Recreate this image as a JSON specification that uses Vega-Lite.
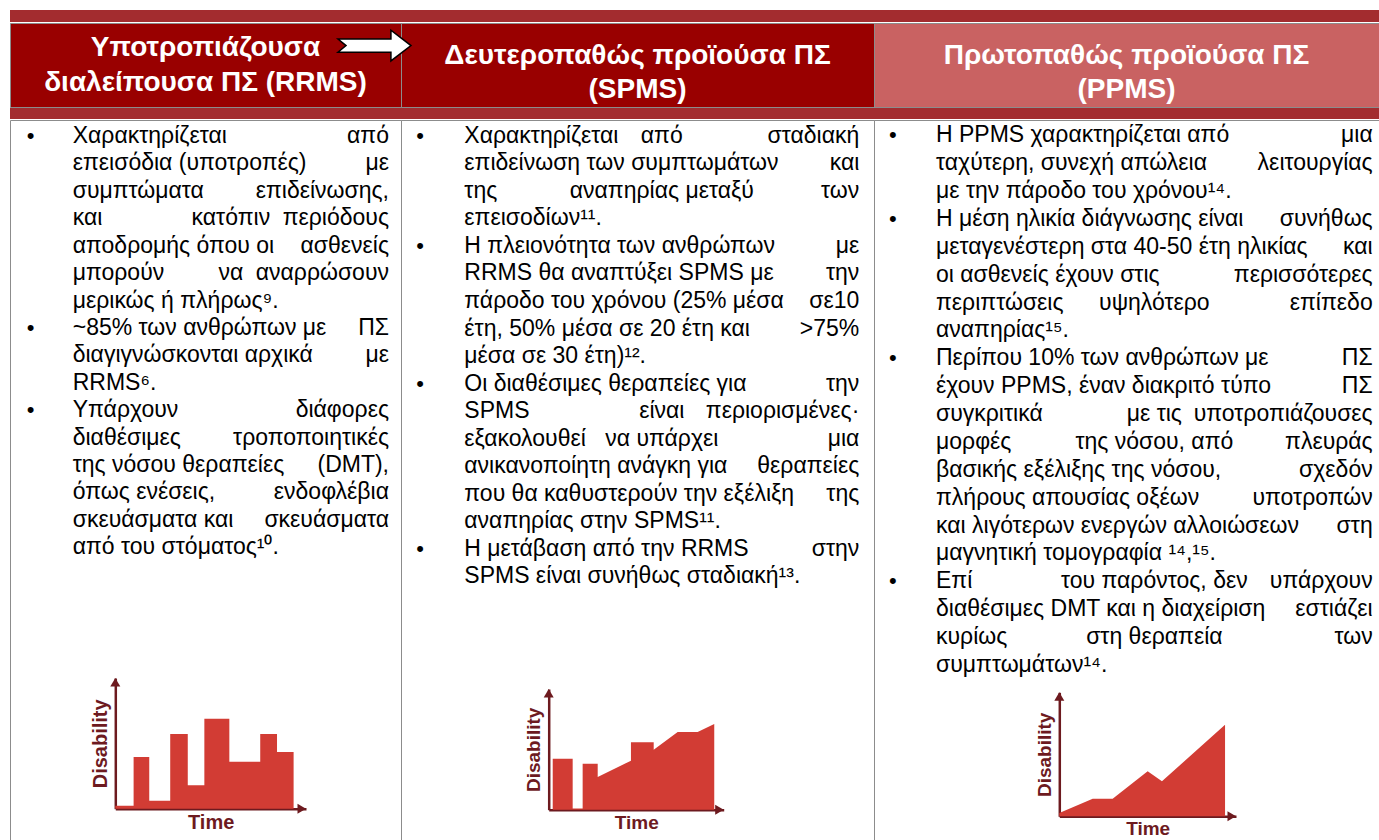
{
  "$schema": "https://vega.github.io/schema/vega-lite/v6.json",
  "padding": {"left": 9, "top": 10, "right": 0, "bottom": 0},
  "background": "white",
  "spacing": 0,
  "config": {"view": {"stroke": null}, "font": "Liberation Sans"},
  "vconcat": [
    {
      "width": 1370, "height": 12,
      "view": {"fill": "#A32C2F", "stroke": null},
      "data": {"values": [{"band": "top"}]},
      "mark": {"type": "rect", "color": "#A32C2F"},
      "encoding": {}
    },
    {
      "hconcat": [
        {
          "width": 391, "height": 84,
          "view": {"fill": "#990000", "stroke": "#8c8c8c"},
          "data": {"values": [{"line": 1, "text": "Υποτροπιάζουσα"}, {"line": 2, "text": "διαλείπουσα ΠΣ (RRMS)"}]},
          "mark": {"type": "text", "fontSize": 28, "fontWeight": "bold", "color": "white", "baseline": "alphabetic", "align": "center"},
          "encoding": {
            "y": {"field": "line", "type": "quantitative", "scale": {"domain": [1, 2], "range": [33, 68], "nice": false, "zero": false}, "axis": null},
            "text": {"field": "text"}
          }
        },
        {
          "width": 473, "height": 84,
          "view": {"fill": "#990000", "stroke": "#8c8c8c"},
          "layer": [
            {
              "data": {"values": [{"line": 1, "text": "Δευτεροπαθώς προϊούσα ΠΣ"}, {"line": 2, "text": "(SPMS)"}]},
              "mark": {"type": "text", "fontSize": 28, "fontWeight": "bold", "color": "white", "baseline": "alphabetic", "align": "center"},
              "encoding": {
                "y": {"field": "line", "type": "quantitative", "scale": {"domain": [1, 2], "range": [41.3, 74.7], "nice": false, "zero": false}, "axis": null},
                "text": {"field": "text"}
              }
            },
            {
              "data": {"values": [{"from": "RRMS", "to": "SPMS"}]},
              "mark": {"type": "point", "shape": "M -1 -0.18 L 0.45 -0.18 L 0.45 -0.42 L 1 0 L 0.45 0.42 L 0.45 0.18 L -1 0.18 L -0.78 0 Z", "size": 5329, "filled": true, "fill": "white", "stroke": "black", "strokeWidth": 1.5, "opacity": 1},
              "encoding": {"x": {"value": -26.5}, "y": {"value": 22.6}}
            }
          ]
        },
        {
          "width": 505, "height": 84,
          "view": {"fill": "#C96262", "stroke": "#8c8c8c"},
          "data": {"values": [{"line": 1, "text": "Πρωτοπαθώς προϊούσα ΠΣ"}, {"line": 2, "text": "(PPMS)"}]},
          "mark": {"type": "text", "fontSize": 28, "fontWeight": "bold", "color": "white", "baseline": "alphabetic", "align": "center"},
          "encoding": {
            "y": {"field": "line", "type": "quantitative", "scale": {"domain": [1, 2], "range": [41.3, 74.7], "nice": false, "zero": false}, "axis": null},
            "text": {"field": "text"}
          }
        }
      ],
      "spacing": 0,
      "bounds": "flush"
    },
    {
      "width": 1370, "height": 11,
      "view": {"fill": "#A32C2F", "stroke": null},
      "data": {"values": [{"band": "bottom"}]},
      "mark": {"type": "rect", "color": "#A32C2F"},
      "encoding": {}
    },
    {
      "hconcat": [
        {
          "width": 391, "height": 723,
          "view": {"stroke": "#8c8c8c"},
          "layer": [
            {
              "data": {"values": [
                {"line": 1, "first": true, "left": "Χαρακτηρίζεται", "right": "από"},
                {"line": 2, "left": "επεισόδια (υποτροπές)", "right": "με"},
                {"line": 3, "left": "συμπτώματα", "right": "επιδείνωσης,"},
                {"line": 4, "left": "και", "mid": "κατόπιν", "right": "περιόδους"},
                {"line": 5, "left": "αποδρομής όπου οι", "right": "ασθενείς"},
                {"line": 6, "left": "μπορούν", "mid": "να", "right": "αναρρώσουν"},
                {"line": 7, "left": "μερικώς ή πλήρως⁹."},
                {"line": 8, "first": true, "left": "~85% των ανθρώπων με", "right": "ΠΣ"},
                {"line": 9, "left": "διαγιγνώσκονται αρχικά", "right": "με"},
                {"line": 10, "left": "RRMS⁶."},
                {"line": 11, "first": true, "left": "Υπάρχουν", "right": "διάφορες"},
                {"line": 12, "left": "διαθέσιμες", "right": "τροποποιητικές"},
                {"line": 13, "left": "της νόσου θεραπείες", "right": "(DMT),"},
                {"line": 14, "left": "όπως ενέσεις,", "right": "ενδοφλέβια"},
                {"line": 15, "left": "σκευάσματα και", "right": "σκευάσματα"},
                {"line": 16, "left": "από του στόματος¹⁰."}
              ]},
              "layer": [
                {
                  "mark": {"type": "text", "align": "left", "baseline": "alphabetic", "fontSize": 23, "color": "#000000"},
                  "encoding": {
                    "x": {"datum": 0, "type": "quantitative", "scale": {"domain": [0, 1], "range": [62.7, 379], "nice": false, "zero": false}, "axis": null},
                    "y": {"field": "line", "type": "quantitative", "scale": {"domain": [1, 16], "range": [23, 434.3], "nice": false, "zero": false}, "axis": null},
                    "text": {"field": "left"}
                  }
                },
                {
                  "transform": [{"filter": "datum.mid"}],
                  "mark": {"type": "text", "align": "center", "baseline": "alphabetic", "fontSize": 23, "color": "#000000"},
                  "encoding": {
                    "x": {"datum": 0.5, "type": "quantitative", "scale": {"domain": [0, 1], "range": [62.7, 379], "nice": false, "zero": false}, "axis": null},
                    "y": {"field": "line", "type": "quantitative", "scale": {"domain": [1, 16], "range": [23, 434.3], "nice": false, "zero": false}, "axis": null},
                    "text": {"field": "mid"}
                  }
                },
                {
                  "transform": [{"filter": "datum.right"}],
                  "mark": {"type": "text", "align": "right", "baseline": "alphabetic", "fontSize": 23, "color": "#000000"},
                  "encoding": {
                    "x": {"datum": 1, "type": "quantitative", "scale": {"domain": [0, 1], "range": [62.7, 379], "nice": false, "zero": false}, "axis": null},
                    "y": {"field": "line", "type": "quantitative", "scale": {"domain": [1, 16], "range": [23, 434.3], "nice": false, "zero": false}, "axis": null},
                    "text": {"field": "right"}
                  }
                },
                {
                  "transform": [{"filter": "datum.first"}],
                  "mark": {"type": "text", "align": "left", "baseline": "alphabetic", "fontSize": 22, "color": "#000000", "dx": -46, "text": "•"},
                  "encoding": {
                    "x": {"datum": 0, "type": "quantitative", "scale": {"domain": [0, 1], "range": [62.7, 379], "nice": false, "zero": false}, "axis": null},
                    "y": {"field": "line", "type": "quantitative", "scale": {"domain": [1, 16], "range": [23, 434.3], "nice": false, "zero": false}, "axis": null}
                  }
                }
              ]
            },
            {
              "data": {"values": [
                {"t": 0, "d": 2.3}, {"t": 9.6, "d": 39.6}, {"t": 17.8, "d": 6.1},
                {"t": 28.8, "d": 57.2}, {"t": 38, "d": 17.9}, {"t": 46.7, "d": 68.9},
                {"t": 59.8, "d": 36}, {"t": 76, "d": 57.2}, {"t": 84.8, "d": 43.4},
                {"t": 93.5, "d": 43.4}
              ]},
              "mark": {"type": "area", "interpolate": "step-after", "color": "#D23C34", "opacity": 1},
              "encoding": {
                "x": {"field": "t", "type": "quantitative", "scale": {"domain": [0, 100], "range": [105.3, 296], "nice": false, "zero": false},
                  "axis": {"orient": "bottom", "offset": -34.3, "domainColor": "#6D1A1F", "domainWidth": 2.5, "ticks": false, "labels": false, "grid": false, "title": "Time", "titleFontSize": 20, "titleFontWeight": "bold", "titleColor": "#6D1A1F", "titleFont": "Liberation Sans", "titlePadding": 4}},
                "y": {"field": "d", "type": "quantitative", "stack": null, "scale": {"domain": [0, 100], "range": [688.7, 558], "nice": false, "zero": false},
                  "axis": {"orient": "left", "offset": -105.3, "domainColor": "#6D1A1F", "domainWidth": 2.5, "ticks": false, "labels": false, "grid": false, "title": "Disability", "titleFontSize": 20, "titleFontWeight": "bold", "titleColor": "#6D1A1F", "titleFont": "Liberation Sans", "titlePadding": 5}}
              }
            },
            {
              "data": {"values": [{"t": 0, "d": 100, "dir": "up"}, {"t": 100, "d": 0, "dir": "right"}]},
              "mark": {"type": "point", "filled": true, "color": "#6D1A1F", "size": 100, "opacity": 1},
              "encoding": {
                "x": {"field": "t", "type": "quantitative", "scale": {"domain": [0, 100], "range": [105.3, 296], "nice": false, "zero": false}, "axis": null},
                "y": {"field": "d", "type": "quantitative", "scale": {"domain": [0, 100], "range": [688.7, 558], "nice": false, "zero": false}, "axis": null},
                "shape": {"field": "dir", "type": "nominal", "scale": {"domain": ["up", "right"], "range": ["M0,0 L1,1.7 L-1,1.7 Z", "M0,0 L-1.7,-1 L-1.7,1 Z"]}, "legend": null}
              }
            }
          ],
          "resolve": {"scale": {"x": "independent", "y": "independent", "shape": "independent"}}
        },
        {
          "width": 473, "height": 723,
          "view": {"stroke": "#8c8c8c"},
          "layer": [
            {
              "data": {"values": [
                {"line": 1, "first": true, "left": "Χαρακτηρίζεται", "mid": "από", "right": "σταδιακή"},
                {"line": 2, "left": "επιδείνωση των συμπτωμάτων", "right": "και"},
                {"line": 3, "left": "της", "mid": "αναπηρίας μεταξύ", "right": "των"},
                {"line": 4, "left": "επεισοδίων¹¹."},
                {"line": 5, "first": true, "left": "Η πλειονότητα των ανθρώπων", "right": "με"},
                {"line": 6, "left": "RRMS θα αναπτύξει SPMS με", "right": "την"},
                {"line": 7, "left": "πάροδο του χρόνου (25% μέσα", "right": "σε10"},
                {"line": 8, "left": "έτη, 50% μέσα σε 20 έτη και", "right": ">75%"},
                {"line": 9, "left": "μέσα σε 30 έτη)¹²."},
                {"line": 10, "first": true, "left": "Οι διαθέσιμες θεραπείες για", "right": "την"},
                {"line": 11, "left": "SPMS", "mid": "είναι", "right": "περιορισμένες·"},
                {"line": 12, "left": "εξακολουθεί", "mid": "να υπάρχει", "right": "μια"},
                {"line": 13, "left": "ανικανοποίητη ανάγκη για", "right": "θεραπείες"},
                {"line": 14, "left": "που θα καθυστερούν την εξέλιξη", "right": "της"},
                {"line": 15, "left": "αναπηρίας στην SPMS¹¹."},
                {"line": 16, "first": true, "left": "Η μετάβαση από την RRMS", "right": "στην"},
                {"line": 17, "left": "SPMS είναι συνήθως σταδιακή¹³."}
              ]},
              "layer": [
                {
                  "mark": {"type": "text", "align": "left", "baseline": "alphabetic", "fontSize": 23, "color": "#000000"},
                  "encoding": {
                    "x": {"datum": 0, "type": "quantitative", "scale": {"domain": [0, 1], "range": [63.3, 458.3], "nice": false, "zero": false}, "axis": null},
                    "y": {"field": "line", "type": "quantitative", "scale": {"domain": [1, 17], "range": [22.8, 463.3], "nice": false, "zero": false}, "axis": null},
                    "text": {"field": "left"}
                  }
                },
                {
                  "transform": [{"filter": "datum.mid"}],
                  "mark": {"type": "text", "align": "center", "baseline": "alphabetic", "fontSize": 23, "color": "#000000"},
                  "encoding": {
                    "x": {"datum": 0.5, "type": "quantitative", "scale": {"domain": [0, 1], "range": [63.3, 458.3], "nice": false, "zero": false}, "axis": null},
                    "y": {"field": "line", "type": "quantitative", "scale": {"domain": [1, 17], "range": [22.8, 463.3], "nice": false, "zero": false}, "axis": null},
                    "text": {"field": "mid"}
                  }
                },
                {
                  "transform": [{"filter": "datum.right"}],
                  "mark": {"type": "text", "align": "right", "baseline": "alphabetic", "fontSize": 23, "color": "#000000"},
                  "encoding": {
                    "x": {"datum": 1, "type": "quantitative", "scale": {"domain": [0, 1], "range": [63.3, 458.3], "nice": false, "zero": false}, "axis": null},
                    "y": {"field": "line", "type": "quantitative", "scale": {"domain": [1, 17], "range": [22.8, 463.3], "nice": false, "zero": false}, "axis": null},
                    "text": {"field": "right"}
                  }
                },
                {
                  "transform": [{"filter": "datum.first"}],
                  "mark": {"type": "text", "align": "left", "baseline": "alphabetic", "fontSize": 22, "color": "#000000", "dx": -48, "text": "•"},
                  "encoding": {
                    "x": {"datum": 0, "type": "quantitative", "scale": {"domain": [0, 1], "range": [63.3, 458.3], "nice": false, "zero": false}, "axis": null},
                    "y": {"field": "line", "type": "quantitative", "scale": {"domain": [1, 17], "range": [22.8, 463.3], "nice": false, "zero": false}, "axis": null}
                  }
                }
              ]
            },
            {
              "data": {"values": [
                {"t": 2.3, "d": 0}, {"t": 2.3, "d": 42.3}, {"t": 13.7, "d": 42.3},
                {"t": 13.7, "d": 1}, {"t": 19.4, "d": 1}, {"t": 19.4, "d": 38.1},
                {"t": 28, "d": 38.1}, {"t": 28, "d": 27.1}, {"t": 47, "d": 40.6},
                {"t": 47, "d": 55.8}, {"t": 60, "d": 55.8}, {"t": 60, "d": 49.7},
                {"t": 73.7, "d": 64.4}, {"t": 85.1, "d": 64.4}, {"t": 94.6, "d": 71},
                {"t": 94.6, "d": 0}
              ]},
              "mark": {"type": "area", "color": "#D23C34", "opacity": 1},
              "encoding": {
                "x": {"field": "t", "type": "quantitative", "scale": {"domain": [0, 100], "range": [147.7, 322.7], "nice": false, "zero": false},
                  "axis": {"orient": "bottom", "offset": -33.3, "domainColor": "#6D1A1F", "domainWidth": 2.5, "ticks": false, "labels": false, "grid": false, "title": "Time", "titleFontSize": 19, "titleFontWeight": "bold", "titleColor": "#6D1A1F", "titleFont": "Liberation Sans", "titlePadding": 4}},
                "y": {"field": "d", "type": "quantitative", "stack": null, "scale": {"domain": [0, 100], "range": [689.7, 569], "nice": false, "zero": false},
                  "axis": {"orient": "left", "offset": -147.7, "domainColor": "#6D1A1F", "domainWidth": 2.5, "ticks": false, "labels": false, "grid": false, "title": "Disability", "titleFontSize": 19, "titleFontWeight": "bold", "titleColor": "#6D1A1F", "titleFont": "Liberation Sans", "titlePadding": 5}}
              }
            },
            {
              "data": {"values": [{"t": 0, "d": 100, "dir": "up"}, {"t": 100, "d": 0, "dir": "right"}]},
              "mark": {"type": "point", "filled": true, "color": "#6D1A1F", "size": 100, "opacity": 1},
              "encoding": {
                "x": {"field": "t", "type": "quantitative", "scale": {"domain": [0, 100], "range": [147.7, 322.7], "nice": false, "zero": false}, "axis": null},
                "y": {"field": "d", "type": "quantitative", "scale": {"domain": [0, 100], "range": [689.7, 569], "nice": false, "zero": false}, "axis": null},
                "shape": {"field": "dir", "type": "nominal", "scale": {"domain": ["up", "right"], "range": ["M0,0 L1,1.7 L-1,1.7 Z", "M0,0 L-1.7,-1 L-1.7,1 Z"]}, "legend": null}
              }
            }
          ],
          "resolve": {"scale": {"x": "independent", "y": "independent", "shape": "independent"}}
        },
        {
          "width": 505, "height": 723,
          "view": {"stroke": "#8c8c8c"},
          "layer": [
            {
              "data": {"values": [
                {"line": 1, "first": true, "left": "Η PPMS χαρακτηρίζεται από", "right": "μια"},
                {"line": 2, "left": "ταχύτερη, συνεχή απώλεια", "right": "λειτουργίας"},
                {"line": 3, "left": "με την πάροδο του χρόνου¹⁴."},
                {"line": 4, "first": true, "left": "Η μέση ηλικία διάγνωσης είναι", "right": "συνήθως"},
                {"line": 5, "left": "μεταγενέστερη στα 40-50 έτη ηλικίας", "right": "και"},
                {"line": 6, "left": "οι ασθενείς έχουν στις", "right": "περισσότερες"},
                {"line": 7, "left": "περιπτώσεις", "mid": "υψηλότερο", "right": "επίπεδο"},
                {"line": 8, "left": "αναπηρίας¹⁵."},
                {"line": 9, "first": true, "left": "Περίπου 10% των ανθρώπων με", "right": "ΠΣ"},
                {"line": 10, "left": "έχουν PPMS, έναν διακριτό τύπο", "right": "ΠΣ"},
                {"line": 11, "left": "συγκριτικά", "mid": "με τις", "right": "υποτροπιάζουσες"},
                {"line": 12, "left": "μορφές", "mid": "της νόσου, από", "right": "πλευράς"},
                {"line": 13, "left": "βασικής εξέλιξης της νόσου,", "right": "σχεδόν"},
                {"line": 14, "left": "πλήρους απουσίας οξέων", "right": "υποτροπών"},
                {"line": 15, "left": "και λιγότερων ενεργών αλλοιώσεων", "right": "στη"},
                {"line": 16, "left": "μαγνητική τομογραφία ¹⁴,¹⁵."},
                {"line": 17, "first": true, "left": "Επί", "mid": "του παρόντος, δεν", "right": "υπάρχουν"},
                {"line": 18, "left": "διαθέσιμες DMT και η διαχείριση", "right": "εστιάζει"},
                {"line": 19, "left": "κυρίως", "mid": "στη θεραπεία", "right": "των"},
                {"line": 20, "left": "συμπτωμάτων¹⁴."}
              ]},
              "layer": [
                {
                  "mark": {"type": "text", "align": "left", "baseline": "alphabetic", "fontSize": 23, "color": "#000000"},
                  "encoding": {
                    "x": {"datum": 0, "type": "quantitative", "scale": {"domain": [0, 1], "range": [62, 498.7], "nice": false, "zero": false}, "axis": null},
                    "y": {"field": "line", "type": "quantitative", "scale": {"domain": [1, 20], "range": [22.3, 552], "nice": false, "zero": false}, "axis": null},
                    "text": {"field": "left"}
                  }
                },
                {
                  "transform": [{"filter": "datum.mid"}],
                  "mark": {"type": "text", "align": "center", "baseline": "alphabetic", "fontSize": 23, "color": "#000000"},
                  "encoding": {
                    "x": {"datum": 0.5, "type": "quantitative", "scale": {"domain": [0, 1], "range": [62, 498.7], "nice": false, "zero": false}, "axis": null},
                    "y": {"field": "line", "type": "quantitative", "scale": {"domain": [1, 20], "range": [22.3, 552], "nice": false, "zero": false}, "axis": null},
                    "text": {"field": "mid"}
                  }
                },
                {
                  "transform": [{"filter": "datum.right"}],
                  "mark": {"type": "text", "align": "right", "baseline": "alphabetic", "fontSize": 23, "color": "#000000"},
                  "encoding": {
                    "x": {"datum": 1, "type": "quantitative", "scale": {"domain": [0, 1], "range": [62, 498.7], "nice": false, "zero": false}, "axis": null},
                    "y": {"field": "line", "type": "quantitative", "scale": {"domain": [1, 20], "range": [22.3, 552], "nice": false, "zero": false}, "axis": null},
                    "text": {"field": "right"}
                  }
                },
                {
                  "transform": [{"filter": "datum.first"}],
                  "mark": {"type": "text", "align": "left", "baseline": "alphabetic", "fontSize": 22, "color": "#000000", "dx": -47, "text": "•"},
                  "encoding": {
                    "x": {"datum": 0, "type": "quantitative", "scale": {"domain": [0, 1], "range": [62, 498.7], "nice": false, "zero": false}, "axis": null},
                    "y": {"field": "line", "type": "quantitative", "scale": {"domain": [1, 20], "range": [22.3, 552], "nice": false, "zero": false}, "axis": null}
                  }
                }
              ]
            },
            {
              "data": {"values": [
                {"t": 0, "d": 2.7}, {"t": 18.9, "d": 14.2}, {"t": 30.2, "d": 14.2},
                {"t": 50, "d": 36.3}, {"t": 58.1, "d": 28.2}, {"t": 93.8, "d": 73.9},
                {"t": 93.8, "d": 0}
              ]},
              "mark": {"type": "area", "color": "#D23C34", "opacity": 1},
              "encoding": {
                "x": {"field": "t", "type": "quantitative", "scale": {"domain": [0, 100], "range": [185.3, 362], "nice": false, "zero": false},
                  "axis": {"orient": "bottom", "offset": -26.7, "domainColor": "#6D1A1F", "domainWidth": 2.5, "ticks": false, "labels": false, "grid": false, "title": "Time", "titleFontSize": 19, "titleFontWeight": "bold", "titleColor": "#6D1A1F", "titleFont": "Liberation Sans", "titlePadding": 3}},
                "y": {"field": "d", "type": "quantitative", "stack": null, "scale": {"domain": [0, 100], "range": [696.3, 572.3], "nice": false, "zero": false},
                  "axis": {"orient": "left", "offset": -185.3, "domainColor": "#6D1A1F", "domainWidth": 2.5, "ticks": false, "labels": false, "grid": false, "title": "Disability", "titleFontSize": 19, "titleFontWeight": "bold", "titleColor": "#6D1A1F", "titleFont": "Liberation Sans", "titlePadding": 5}}
              }
            },
            {
              "data": {"values": [{"t": 0, "d": 100, "dir": "up"}, {"t": 100, "d": 0, "dir": "right"}]},
              "mark": {"type": "point", "filled": true, "color": "#6D1A1F", "size": 100, "opacity": 1},
              "encoding": {
                "x": {"field": "t", "type": "quantitative", "scale": {"domain": [0, 100], "range": [185.3, 362], "nice": false, "zero": false}, "axis": null},
                "y": {"field": "d", "type": "quantitative", "scale": {"domain": [0, 100], "range": [696.3, 572.3], "nice": false, "zero": false}, "axis": null},
                "shape": {"field": "dir", "type": "nominal", "scale": {"domain": ["up", "right"], "range": ["M0,0 L1,1.7 L-1,1.7 Z", "M0,0 L-1.7,-1 L-1.7,1 Z"]}, "legend": null}
              }
            }
          ],
          "resolve": {"scale": {"x": "independent", "y": "independent", "shape": "independent"}}
        }
      ],
      "spacing": 0,
      "bounds": "flush"
    }
  ]
}
